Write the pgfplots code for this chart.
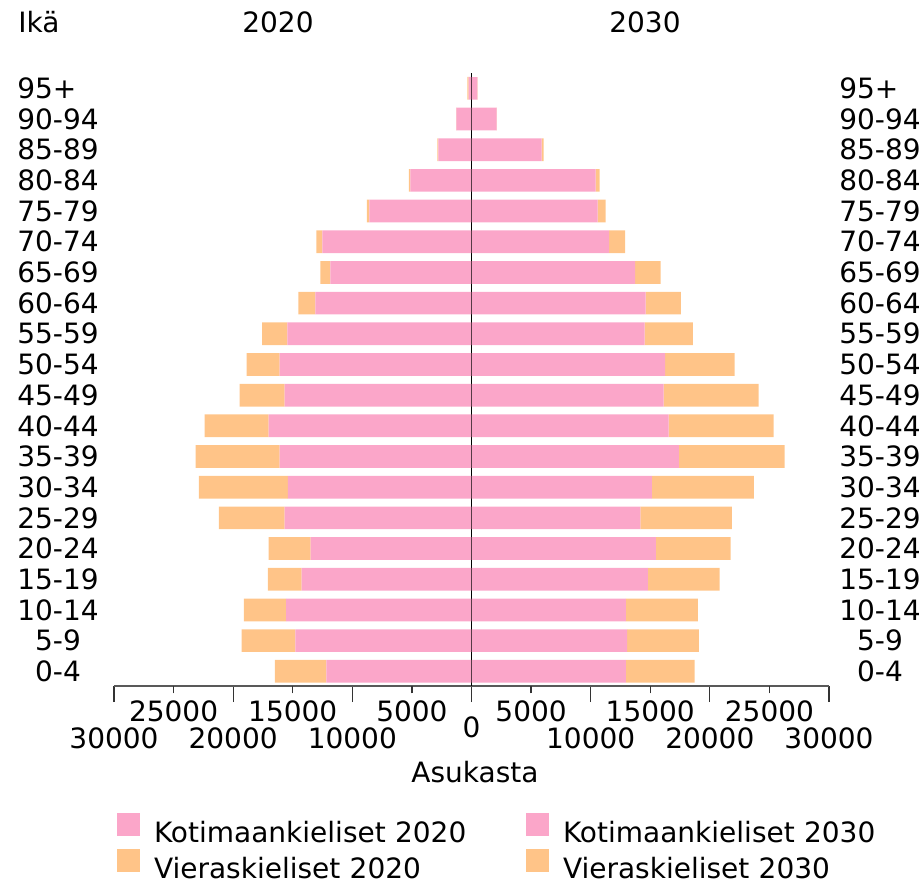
\documentclass[border=0pt]{standalone}
\usepackage{fontspec}
\setmainfont{DejaVu Sans}
\usepackage{calc}
\usepackage{pgfplots}
\pgfplotsset{compat=1.18}
\usepackage{pgfplotstable}
\definecolor{kpink}{HTML}{FBA6C9}
\definecolor{korange}{HTML}{FFC488}
% age index, domestic-language 2020, foreign-language 2020, domestic 2030, foreign 2030
\pgfplotstableread{
age p20 o20 p30 o30
0 12170 4340 12950 5780
1 14770 4510 13060 6010
2 15550 3560 12950 6050
3 14250 2840 14800 6020
4 13500 3520 15480 6260
5 15690 5500 14180 7660
6 15410 7460 15140 8550
7 16100 7040 17400 8880
8 17020 5370 16540 8820
9 15690 3760 16130 7970
10 16100 2770 16240 5840
11 15460 2100 14530 4040
12 13100 1430 14620 2940
13 11840 840 13730 2130
14 12520 500 11550 1350
15 8570 220 10580 680
16 5120 140 10420 330
17 2770 90 5880 170
18 1260 30 2100 30
19 250 90 500 10
}\pop
\begin{document}
\fontsize{14}{16.8}\selectfont
\begin{tikzpicture}[font=\fontsize{14}{16.8}\selectfont]
\useasboundingbox (0,0) rectangle (459.5pt,440pt);
\pgfplotsset{pyr/.style={
  scale only axis, width=357.5pt, height=306.65pt,
  at={(57pt,97pt)}, anchor=south west,
  xmin=-30000, xmax=30000, ymin=-0.48, ymax=19.51,
  scaled x ticks=false,
  xbar stacked, bar width=11.35pt,
  ytick={0,...,19},
  yticklabels={0-4,5-9,10-14,15-19,20-24,25-29,30-34,35-39,40-44,45-49,50-54,55-59,60-64,65-69,70-74,75-79,80-84,85-89,90-94,\makebox[\widthof{90-94}][l]{95+}},
  ytick style={draw=none},
}}
\begin{axis}[pyr,
  axis lines*=left,
  y axis line style={draw=none},
  x axis line style={-, draw=black!65, line width=0.8pt},
  xtick={-30000,-20000,-10000,0,10000,20000,30000},
  xticklabels={30000,20000,10000,\raisebox{5.5pt}[\height][\depth]{0},10000,20000,30000},
  extra x ticks={-25000,-15000,-5000,5000,15000,25000},
  extra x tick labels={25000,15000,5000,5000,15000,25000},
  tick align=outside,
  major tick length=8pt,
  xtick style={draw=black!80, line width=0.6pt},
  extra x tick style={major tick length=3.7pt, xticklabel style={yshift=9.2pt}},
  xticklabel style={anchor=center, yshift=-18pt},
  yticklabel style={anchor=center, xshift=-20pt},
]
\draw[black, line width=0.5pt] (axis cs:0,-0.48) -- (axis cs:0,19.51);
\addplot[fill=kpink, draw=none] table[x expr=-\thisrow{p20}, y=age]{\pop};
\addplot[fill=korange, draw=none] table[x expr=-\thisrow{o20}, y=age]{\pop};
\end{axis}
\begin{axis}[pyr,
  hide x axis,
  axis y line*=right,
  y axis line style={draw=none},
  yticklabel pos=right,
  yticklabel style={anchor=center, xshift=25.5pt},
  legend columns=2,
  legend cell align=left,
  legend style={draw=none, fill=none, at={(0.0042,-0.2063)}, anchor=north west,
    inner sep=0pt, outer sep=0pt, column sep=7pt, row sep=1.5pt,
    nodes={inner sep=0pt, text height=10pt, text depth=2pt, text width=179pt, align=left}},
  legend image code/.code={\fill[#1,draw=none] (0pt,-0.65pt) rectangle (11.5pt,10.85pt);},
]
\addplot[fill=kpink, draw=none, forget plot] table[x=p30, y=age]{\pop};
\addplot[fill=korange, draw=none, forget plot] table[x=o30, y=age]{\pop};
\addlegendimage{fill=kpink}
\addlegendentry{Kotimaankieliset 2020}
\addlegendimage{fill=kpink}
\addlegendentry{Kotimaankieliset 2030}
\addlegendimage{fill=korange}
\addlegendentry{Vieraskieliset 2020}
\addlegendimage{fill=korange}
\addlegendentry{Vieraskieliset 2030}
\end{axis}
\node[anchor=west, inner sep=0pt] at (9pt,429pt) {Ikä};
\node at (139pt,429pt) {2020};
\node at (322.5pt,429pt) {2030};
\node at (237.5pt,54pt) {Asukasta};
\end{tikzpicture}
\end{document}
